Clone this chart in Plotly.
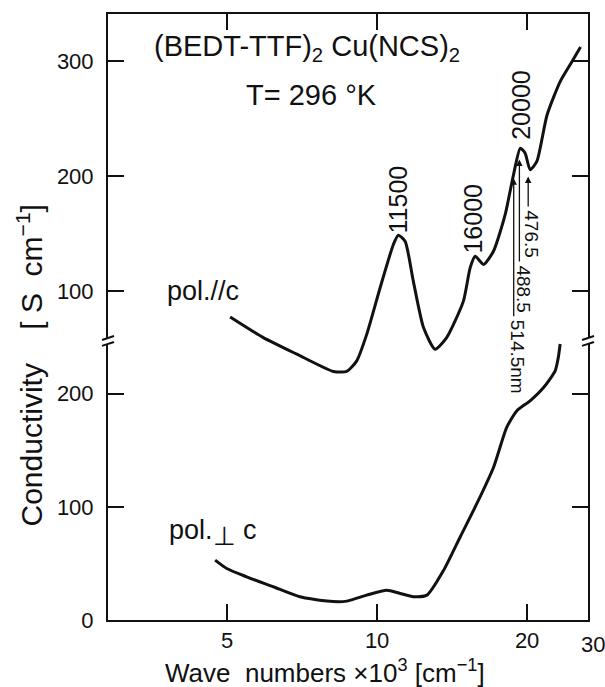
import math
import plotly.graph_objects as go

# ---------------- data ----------------
# wave numbers in units of 10^3 cm^-1, conductivity in S cm^-1
par_x = [5.07, 5.91, 6.90, 8.17, 8.69, 9.10, 9.53, 10.14, 10.78, 11.03, 11.38,
         11.82, 12.39, 13.07, 13.79, 14.90, 15.37, 15.73, 16.35, 17.12, 18.07,
         18.78, 19.38, 19.82, 20.28, 20.92, 21.93, 23.3, 24.5, 25.6]
par_y = [77.5, 59.6, 45.2, 30.2, 30.2, 39.4, 62.4, 102.9, 140.5, 148.5, 143.3,
         108.7, 68.3, 49.5, 59.6, 91.3, 120.2, 130.3, 123.2, 134.6, 166.4,
         201.0, 224.1, 219.8, 205.4, 212.6, 253.0, 282.0, 298.0, 312.0]

perp_x = [4.73, 4.99, 5.47, 6.19, 7.00, 7.93, 8.70, 9.53, 10.46, 11.12, 11.83,
          12.59, 13.6, 14.68, 15.85, 17.13, 18.2, 19.08, 20.28, 21.58, 22.77,
          23.1, 23.3]
perp_y = [52.9, 45.5, 38.2, 29.4, 20.6, 16.7, 16.7, 22.0, 26.4, 23.5, 20.6,
          22.0, 44.0, 73.4, 102.8, 135.1, 170.3, 185.0, 193.8, 205.5, 220.3,
          232.0, 244.0]

peak_labels = ["11500", "16000", "20000"]
peak_x = [11.02, 15.59, 19.45]
peak_y = [179.7, 163.2, 261.9]

laser_labels = ["514.5nm", "488.5", "476.5"]
laser_x = [18.8, 19.3, 20.1]          # drawn arrow positions
laser_head = [198.0, 214.3, 199.6]
laser_tail = [76.9, 124.5, 172.1]
laser_text_x = [19.08, 19.67, 20.44]

x_ticks = [5, 10, 20]
x_ticktext = ["5", "10", "20"]
y_low_ticks = [0, 100, 200]
y_up_ticks = [100, 200, 300]

x_range = [2.883, 26.5]
y_low_range = [0, 246.7]       # visible part of the lower scale (below the break)
y_up_range = [56.7, 340.7]     # visible part of the upper scale (above the break)

# ---------------- layout constants ----------------
ML, MR, MT, MB = 108, 17, 12, 67
WIDTH, HEIGHT = 605, 687
PW, PH = WIDTH - ML - MR, HEIGHT - MT - MB
BREAK = 0.4605
FONT = "Liberation Sans, Arial, sans-serif"
BLACK = "#111111"

# both scales span the full plot height; the break marks where they meet
y_low_full = [y_low_range[0], y_low_range[0] + (y_low_range[1] - y_low_range[0]) / BREAK]
per_paper = (y_up_range[1] - y_up_range[0]) / (1 - BREAK)
y_up_full = [y_up_range[0] - BREAK * per_paper, y_up_range[1]]

fig = go.Figure()
fig.add_trace(go.Scatter(x=perp_x, y=perp_y, mode="lines", xaxis="x", yaxis="y",
                         line=dict(color=BLACK, width=3, shape="spline", smoothing=0.6),
                         showlegend=False, hoverinfo="skip"))
fig.add_trace(go.Scatter(x=par_x, y=par_y, mode="lines", xaxis="x", yaxis="y2",
                         line=dict(color=BLACK, width=3, shape="spline", smoothing=0.6),
                         showlegend=False, hoverinfo="skip"))

lx = [math.log10(v) for v in x_range]
axis_common = dict(showgrid=False, zeroline=False, showline=True, linecolor=BLACK,
                   linewidth=2, ticks="inside", ticklen=16, tickwidth=1.5,
                   tickcolor=BLACK, mirror="ticks",
                   tickfont=dict(family=FONT, size=22, color=BLACK))

fig.update_layout(
    width=WIDTH, height=HEIGHT,
    margin=dict(l=ML, r=MR, t=MT, b=MB),
    paper_bgcolor="white", plot_bgcolor="white",
    xaxis=dict(type="log", range=lx, tickvals=x_ticks, ticktext=x_ticktext,
               anchor="y", **axis_common),
    yaxis=dict(range=y_low_full, tickvals=y_low_ticks,
               anchor="x", ticklabelstandoff=8, **axis_common),
    yaxis2=dict(range=y_up_full, tickvals=y_up_ticks, overlaying="y", side="left",
                anchor="x", ticklabelstandoff=8, **axis_common),
)

ann = []
# peak labels (rotated)
for t, x, y in zip(peak_labels, peak_x, peak_y):
    ann.append(dict(text=t, x=math.log10(x), y=y, xref="x", yref="y2",
                    xanchor="center", yanchor="middle",
                    showarrow=False, textangle=-90,
                    font=dict(family=FONT, size=25, color=BLACK)))
# laser arrows
for t, x, yh, yt, tx in zip(laser_labels, laser_x, laser_head, laser_tail, laser_text_x):
    ann.append(dict(text="", x=math.log10(x), y=yh, ax=math.log10(x), ay=yt,
                    xref="x", yref="y2", axref="x", ayref="y2", showarrow=True,
                    arrowhead=2, arrowsize=1, arrowwidth=1.3, arrowcolor=BLACK))
    ann.append(dict(text=t, x=math.log10(tx), y=yt, xref="x", yref="y2",
                    xanchor="center", yanchor="top", showarrow=False, textangle=90,
                    font=dict(family=FONT, size=19, color=BLACK)))
# series labels
ann.append(dict(text="pol.//c", x=math.log10(3.75), y=100, xref="x", yref="y2",
                xanchor="left", yanchor="middle", showarrow=False,
                font=dict(family=FONT, size=27, color=BLACK)))
ann.append(dict(text="pol.<sub><span style='font-size:26px'>⊥</span></sub> c",
                x=math.log10(3.79), y=76.7, xref="x", yref="y",
                xanchor="left", yanchor="middle", showarrow=False,
                font=dict(family=FONT, size=27, color=BLACK)))
# title texts
ann.append(dict(text="(BEDT-TTF)<sub>2</sub> Cu(NCS)<sub>2</sub>", x=0.4146, y=0.944,
                xref="paper", yref="paper", xanchor="center", yanchor="middle",
                showarrow=False, font=dict(family=FONT, size=29, color=BLACK)))
ann.append(dict(text="T= 296 °K", x=0.423, y=0.866, xref="paper", yref="paper",
                xanchor="center", yanchor="middle",
                showarrow=False, font=dict(family=FONT, size=29, color=BLACK)))
# axis titles
ann.append(dict(text="Wave  numbers ×10<sup>3</sup> [cm<sup>−1</sup>]", x=0.452, y=-0.0855,
                xref="paper", yref="paper", xanchor="center", yanchor="middle",
                showarrow=False, font=dict(family=FONT, size=26, color=BLACK)))
ann.append(dict(text="Conductivity    [ S  cm<sup>−1</sup>]", x=-0.1625, y=0.42,
                xref="paper", yref="paper", xanchor="center", yanchor="middle",
                showarrow=False, textangle=-90,
                font=dict(family=FONT, size=30, color=BLACK)))
ann.append(dict(text="30", x=1.0104, y=-0.041, xref="paper", yref="paper",
                xanchor="center", yanchor="middle",
                showarrow=False, font=dict(family=FONT, size=22, color=BLACK)))
fig.update_layout(annotations=ann)

# axis break marks
shapes = []
for xp in (0.0, 1.0):
    shapes.append(dict(type="rect", xref="paper", yref="paper",
                       x0=xp - 7 / PW, x1=xp + 7 / PW,
                       y0=BREAK - 3 / PH, y1=BREAK + 3 / PH,
                       fillcolor="white", line=dict(width=0)))
    for dy in (-3, 3):
        shapes.append(dict(type="line", xref="paper", yref="paper",
                           x0=xp - 6 / PW, x1=xp + 6 / PW,
                           y0=BREAK + (dy - 2) / PH, y1=BREAK + (dy + 2) / PH,
                           line=dict(color=BLACK, width=2)))
fig.update_layout(shapes=shapes)

fig.write_html("out.html")
